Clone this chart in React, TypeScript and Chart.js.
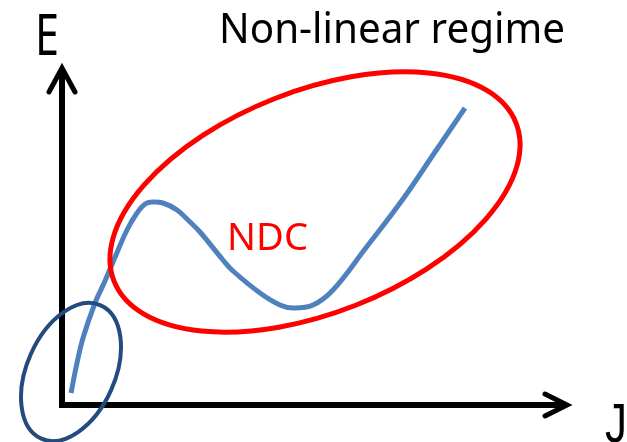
import React, { useEffect, useRef } from "react";
import { Chart, registerables } from "chart.js";

Chart.register(...registerables);

// J-E characteristic (schematic), x = J, y = E in arbitrary units
const curveJ = [9, 15, 21, 33, 43, 51, 65, 75, 83, 90, 101, 115, 128, 138, 161, 171, 198, 218, 231, 251, 271, 303, 341, 373, 403];
const curveE = [12, 42, 67, 102, 124, 143, 175, 192, 201, 203, 202, 195, 183, 173, 145, 134, 112, 100, 97, 100, 115, 156, 206, 253, 297];

// axes with arrow heads
const yAxisJ = [0, 0];
const yAxisE = [-3, 336];
const yArrowJ = [-13, 0, 13];
const yArrowE = [313, 337, 313];
const xAxisJ = [-3, 504];
const xAxisE = [0, 0];
const xArrowJ = [483, 505, 483];
const xArrowE = [11, 0, -11];

// ellipses: [centerJ, centerE, semiMajor, semiMinor, angleDeg]
const ndcEllipse = [253, 203, 216, 111, 21.5];
const linearEllipse = [9, 33, 73, 44, 66];

// text labels: [text, J, E]
const labelTexts = ["E", "J", "Non-linear regime", "NDC"];
const labelJ = [-27, 543, 157, 165];
const labelE = [350, -37, 362, 155];

const pts = (xs: number[], ys: number[]) => xs.map((x, i) => ({ x, y: ys[i] }));

const overlay = {
  id: "overlay",
  afterDatasetsDraw(chart: any) {
    const { ctx } = chart;
    const xs = chart.scales.x;
    const ys = chart.scales.y;
    const drawEllipse = (p: number[], color: string, w: number) => {
      const cx = xs.getPixelForValue(p[0]);
      const cy = ys.getPixelForValue(p[1]);
      const rx = Math.abs(xs.getPixelForValue(p[0] + p[2]) - cx);
      const ry = Math.abs(ys.getPixelForValue(p[1] + p[3]) - cy);
      ctx.save();
      ctx.beginPath();
      ctx.ellipse(cx, cy, rx, ry, (-p[4] * Math.PI) / 180, 0, Math.PI * 2);
      ctx.strokeStyle = color;
      ctx.lineWidth = w;
      ctx.stroke();
      ctx.restore();
    };
    drawEllipse(ndcEllipse, "#ff0000", 5);
    drawEllipse(linearEllipse, "#234b7f", 4);

    const styles = [
      { font: "56px 'Noto Sans'", color: "#000000", maxW: 24 },
      { font: "55px 'Liberation Sans'", color: "#000000", maxW: 22 },
      { font: "42px 'Noto Sans'", color: "#000000", maxW: 346 },
      { font: "39px 'Noto Sans'", color: "#ff0000", maxW: 81 },
    ];
    ctx.save();
    ctx.textBaseline = "alphabetic";
    ctx.textAlign = "left";
    labelTexts.forEach((t, i) => {
      const s = styles[i];
      ctx.font = s.font;
      ctx.fillStyle = s.color;
      ctx.fillText(t, xs.getPixelForValue(labelJ[i]), ys.getPixelForValue(labelE[i]), s.maxW);
    });
    ctx.restore();
  },
};

export default function App() {
  const ref = useRef<HTMLCanvasElement>(null);
  useEffect(() => {
    if (!ref.current) return;
    const line = (data: any, color: string, width: number, extra: any = {}) => ({
      type: "line",
      data,
      borderColor: color,
      borderWidth: width,
      pointRadius: 0,
      fill: false,
      showLine: true,
      ...extra,
    });
    const chart = new Chart(ref.current, {
      type: "scatter",
      data: {
        datasets: [
          line(pts(yAxisJ, yAxisE), "#000000", 6, { borderCapStyle: "butt" }),
          line(pts(xAxisJ, xAxisE), "#000000", 6, { borderCapStyle: "butt" }),
          line(pts(yArrowJ, yArrowE), "#000000", 5, { borderJoinStyle: "miter", borderCapStyle: "round" }),
          line(pts(xArrowJ, xArrowE), "#000000", 5, { borderJoinStyle: "miter", borderCapStyle: "round" }),
          line(pts(curveJ, curveE), "#4f81bd", 5, { tension: 0.4, borderCapStyle: "butt" }),
        ] as any,
      },
      options: {
        animation: false,
        responsive: false,
        layout: { padding: 0 },
        plugins: { legend: { display: false }, tooltip: { enabled: false } },
        scales: {
          x: { type: "linear", min: -62, max: 565, display: false },
          y: { type: "linear", min: -37, max: 405, display: false },
        },
      },
      plugins: [overlay],
    } as any);
    return () => chart.destroy();
  }, []);
  return (
    <div style={{ position: "fixed", left: 0, top: 0, width: 627, height: 442, background: "#fff" }}>
      <canvas ref={ref} width={627} height={442} />
    </div>
  );
}
